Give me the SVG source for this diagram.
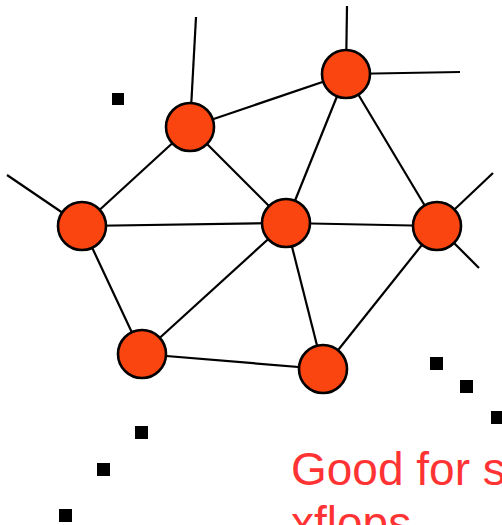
<svg xmlns="http://www.w3.org/2000/svg" width="502" height="525" viewBox="0 0 502 525">
<style>
.e{stroke:#000;stroke-width:2.2;fill:none}
.n{fill:#FB4510;stroke:#000;stroke-width:2.6}
.d{fill:#000}
.t{font-family:"Liberation Sans",Arial,sans-serif;font-size:46px;fill:#FF3333}
</style>
<rect width="502" height="525" fill="#fff"/>
<g id="connectors">
<line class="e" x1="190" y1="127" x2="196" y2="17"/>
<line class="e" x1="346" y1="74" x2="347" y2="6"/>
<line class="e" x1="346" y1="74" x2="460" y2="72"/>
<line class="e" x1="82" y1="226" x2="7" y2="175"/>
<line class="e" x1="437" y1="226" x2="493" y2="173"/>
<line class="e" x1="437" y1="226" x2="479" y2="268"/>
<line class="e" x1="190" y1="127" x2="346" y2="74"/>
<line class="e" x1="190" y1="127" x2="82" y2="226"/>
<line class="e" x1="190" y1="127" x2="286" y2="223"/>
<line class="e" x1="346" y1="74" x2="286" y2="223"/>
<line class="e" x1="346" y1="74" x2="437" y2="226"/>
<line class="e" x1="82" y1="226" x2="286" y2="223"/>
<line class="e" x1="82" y1="226" x2="142" y2="354"/>
<line class="e" x1="286" y1="223" x2="437" y2="226"/>
<line class="e" x1="286" y1="223" x2="142" y2="354"/>
<line class="e" x1="286" y1="223" x2="323" y2="369"/>
<line class="e" x1="437" y1="226" x2="323" y2="369"/>
<line class="e" x1="142" y1="354" x2="323" y2="369"/>
</g>
<g id="nA"><circle class="n" cx="190" cy="127" r="24"/></g>
<g id="nB"><circle class="n" cx="346" cy="74" r="24"/></g>
<g id="nC"><circle class="n" cx="82" cy="226" r="24"/></g>
<g id="nD"><circle class="n" cx="286" cy="223" r="24"/></g>
<g id="nE"><circle class="n" cx="437" cy="226" r="24"/></g>
<g id="nF"><circle class="n" cx="142" cy="354" r="24"/></g>
<g id="nG"><circle class="n" cx="323" cy="369" r="24"/></g>
<g id="dots">
<rect class="d" x="112" y="93" width="12" height="12"/>
<rect class="d" x="430" y="357" width="13" height="13"/>
<rect class="d" x="460" y="380" width="13" height="13"/>
<rect class="d" x="491" y="411" width="13" height="13"/>
<rect class="d" x="135" y="426" width="13" height="13"/>
<rect class="d" x="97" y="463" width="13" height="13"/>
<rect class="d" x="59" y="509" width="13" height="13"/>
</g>
<g id="label">
<text class="t" x="291" y="485">Good for s</text>
<text class="t" x="291" y="539">xflops</text>
</g>
</svg>
